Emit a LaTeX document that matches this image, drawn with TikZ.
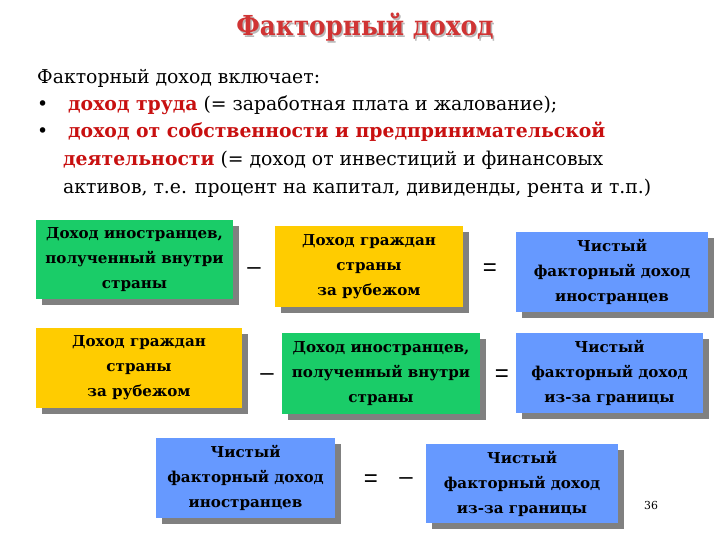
\documentclass[tikz,border=0pt]{standalone}
\usepackage{fontspec}
\setmainfont{DejaVu Serif Condensed}[FakeStretch=1.1]
\newfontfamily\titlefont{DejaVu Serif Condensed}
\newfontfamily\boxfont{DejaVu Serif Condensed}[FakeStretch=1.12]
\newfontfamily\opfont{Liberation Sans}
\usetikzlibrary{shadows}
\definecolor{titlered}{RGB}{208,52,52}
\definecolor{keyred}{RGB}{200,16,16}
\definecolor{boxgreen}{RGB}{26,204,104}
\definecolor{boxyellow}{RGB}{255,204,0}
\definecolor{boxblue}{RGB}{102,153,255}
\definecolor{shadowgray}{RGB}{128,128,128}
\tikzset{
  box/.style={inner sep=0pt, align=center, text=black,
    font=\boxfont\bfseries\fontsize{15}{25}\selectfont,
    drop shadow={shadow xshift=6pt, shadow yshift=-6pt, fill=shadowgray, opacity=1}},
  gbox/.style={box, fill=boxgreen},
  ybox/.style={box, fill=boxyellow},
  bbox/.style={box, fill=boxblue},
  op/.style={inner sep=0pt, font=\opfont\fontsize{24}{24}\selectfont},
  body/.style={inner sep=0pt, anchor=base west, font=\fontsize{19}{19}\selectfont},
  titlestyle/.style={inner sep=0pt, anchor=base, font=\titlefont\bfseries\fontsize{27.5}{27.5}\selectfont}
}
\begin{document}
\begin{tikzpicture}[x=1pt,y=-1pt]
\useasboundingbox (0,0) rectangle (720,540);
% title
\node[titlestyle, text=gray!55] at (366.5,37.5) {Факторный доход};
\node (title) [titlestyle, text=titlered] at (365,36) {Факторный доход};
% body
\node (l1) [body] at (37,84) {Факторный доход включает:};
\node (b1) [body] at (37,111) {•};
\node (l2) [body] at (68,111) {\textcolor{keyred}{\bfseries доход труда} (= заработная плата и жалование);};
\node (b2) [body] at (37,138) {•};
\node (l3) [body] at (68,138) {\textcolor{keyred}{\bfseries доход от собственности и предпринимательской}};
\node (l4) [body] at (63,166) {\textcolor{keyred}{\bfseries деятельности} (= доход от инвестиций и финансовых};
\node (l5) [body] at (63,194) {активов, т.е. процент на капитал, дивиденды, рента и т.п.)};
% row 1
\node (g1) [gbox, minimum width=197pt, minimum height=79pt] at (134.5,259.5) {Доход иностранцев,\\полученный внутри\\страны};
\node (y1) [ybox, minimum width=188pt, minimum height=81pt] at (369,266.5) {Доход граждан\\страны\\за рубежом};
\node (n1) [bbox, minimum width=192pt, minimum height=80pt] at (612,272) {Чистый\\факторный доход\\иностранцев};
\node (m1) [op] at (254,271) {–};
\node (e1) [op] at (490,270) {=};
% row 2
\node (y2) [ybox, minimum width=206pt, minimum height=80pt] at (139,368) {Доход граждан\\страны\\за рубежом};
\node (g2) [gbox, minimum width=198pt, minimum height=81pt] at (381,373.5) {Доход иностранцев,\\полученный внутри\\страны};
\node (n2) [bbox, minimum width=187pt, minimum height=80pt] at (609.5,373) {Чистый\\факторный доход\\из-за границы};
\node (m2) [op] at (267,377) {–};
\node (e2) [op] at (502,376) {=};
% row 3
\node (n3) [bbox, minimum width=179pt, minimum height=80pt] at (245.5,478) {Чистый\\факторный доход\\иностранцев};
\node (e3) [op] at (371,481) {=};
\node (m3) [op] at (406,481) {–};
\node (n4) [bbox, minimum width=192pt, minimum height=79pt] at (522,483.5) {Чистый\\факторный доход\\из-за границы};
\node (page) [inner sep=0pt, font=\fontsize{11}{11}\selectfont] at (651,505) {36};
\end{tikzpicture}
\end{document}
